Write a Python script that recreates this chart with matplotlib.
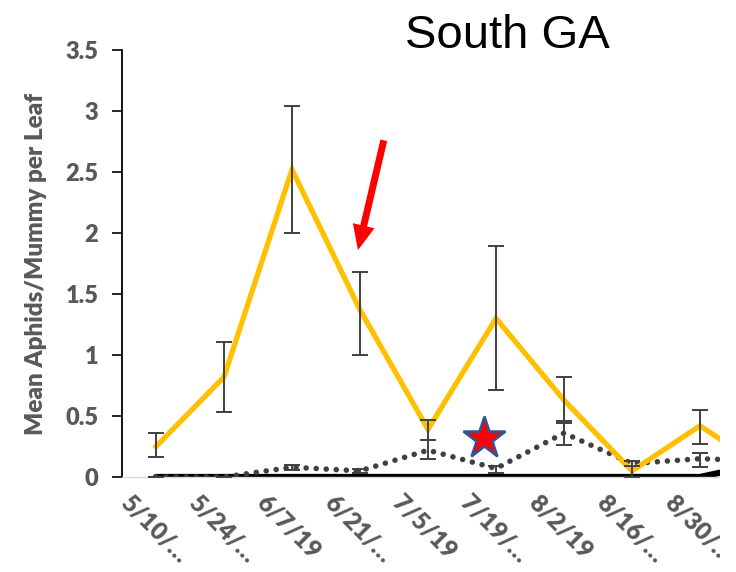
import matplotlib
matplotlib.use("Agg")
import matplotlib.pyplot as plt
import matplotlib.transforms as mtransforms
from matplotlib.patches import Rectangle

# data
fechas = ["5/10/…", "5/24/…", "6/7/19", "6/21/…", "7/5/19",
          "7/19/…", "8/2/19", "8/16/…", "8/30/…", "9/13/…"]

afidos = [0.25, 0.82, 2.52, 1.37, 0.39, 1.30, 0.63, 0.05, 0.42, 0.05]
afidos_bajo = [0.16, 0.53, 2.00, 1.00, 0.30, 0.71, 0.44, 0.00, 0.27, 0.00]
afidos_alto = [0.36, 1.11, 3.04, 1.68, 0.47, 1.89, 0.82, 0.13, 0.55, 0.10]

momias = [0.0, 0.0, 0.08, 0.05, 0.22, 0.07, 0.36, 0.11, 0.15, 0.13]
momias_bajo = [0.0, 0.0, 0.06, 0.03, 0.15, 0.03, 0.26, 0.09, 0.08, 0.10]
momias_alto = [0.0, 0.0, 0.10, 0.065, 0.30, 0.09, 0.46, 0.13, 0.20, 0.16]

otros = [0.0, 0.0, 0.0, 0.0, 0.0, 0.0, 0.0, 0.0, 0.0, 0.12]

estrella = (4.82, 0.32)
flecha_inicio = (3.35, 2.76)
flecha_fin = (2.97, 1.86)

GRIS = "#404040"
TEXTO = "#595959"

fig = plt.figure(figsize=(7.36, 5.72), dpi=100)
ax = fig.add_axes([122 / 736, 95 / 572, 680 / 736, 427 / 572])

x = list(range(len(fechas)))

ax.plot(x, otros, color="black", lw=4.5, solid_capstyle="round", zorder=2)
ax.plot(x, momias, color=GRIS, lw=4.0, linestyle=(0, (0.01, 1.8)),
        dash_capstyle="round", zorder=3)
ax.plot(x, afidos, color="#FFC000", lw=3.8, solid_joinstyle="miter", zorder=4)

err_af = [[m - b for m, b in zip(afidos, afidos_bajo)],
          [a - m for m, a in zip(afidos, afidos_alto)]]
err_mo = [[m - b for m, b in zip(momias, momias_bajo)],
          [a - m for m, a in zip(momias, momias_alto)]]
ax.errorbar(x, afidos, yerr=err_af, fmt="none", ecolor=GRIS, elinewidth=1.4,
            capsize=6, capthick=1.4, zorder=5)
ax.errorbar(x, momias, yerr=err_mo, fmt="none", ecolor=GRIS, elinewidth=1.4,
            capsize=6, capthick=1.4, zorder=5)

ax.plot([estrella[0]], [estrella[1]], marker="*", markersize=32,
        markerfacecolor="red", markeredgecolor="#2F5597", markeredgewidth=1.8,
        zorder=6)

ax.annotate("", xy=flecha_fin, xytext=flecha_inicio,
            arrowprops=dict(facecolor="red", edgecolor="none", width=5,
                            headwidth=16, headlength=18, shrink=0),
            zorder=6)

ax.set_xlim(-0.5, len(fechas) - 0.5)
ax.set_ylim(0, 3.5)
ax.set_yticks([0, 0.5, 1, 1.5, 2, 2.5, 3, 3.5])
ax.set_yticklabels(["0", "0.5", "1", "1.5", "2", "2.5", "3", "3.5"])
ax.set_xticks(x)
ax.set_xticklabels(fechas)

for s in ["top", "right"]:
    ax.spines[s].set_visible(False)
ax.spines["left"].set_linewidth(1.3)
ax.spines["bottom"].set_color("#D9D9D9")
ax.spines["bottom"].set_linewidth(1.0)

ax.tick_params(axis="y", direction="out", length=7, width=1.2, pad=10,
               labelsize=17, labelcolor=TEXTO)
ax.tick_params(axis="x", length=0, pad=10, labelsize=17.5, labelcolor=TEXTO)

for lab in ax.get_yticklabels():
    lab.set_fontfamily("Lato")
    lab.set_fontweight("heavy")

desplazar = mtransforms.ScaledTranslation(-40 / 100, 0, fig.dpi_scale_trans)
for lab in ax.get_xticklabels():
    lab.set_fontfamily("Lato")
    lab.set_fontweight("heavy")
    lab.set_rotation(-45)
    lab.set_ha("left")
    lab.set_va("top")
    lab.set_transform(lab.get_transform() + desplazar)
# the last category lies outside the visible part of the original picture
ax.get_xticklabels()[-1].set_visible(False)

ax.set_ylabel("Mean Aphids/Mummy per Leaf", fontsize=17.5, fontweight="heavy",
              color=TEXTO, family="Lato")
ax.yaxis.set_label_coords(-0.111, 0.5)

fig.text(507 / 736, 1 - 14 / 572, "South GA", ha="center", va="top",
         fontsize=34, family="Liberation Sans", color="black")

# the original image is cut off on the right
fig.add_artist(Rectangle((720 / 736, 0), 16 / 736, 1, transform=fig.transFigure,
                         facecolor="white", edgecolor="none", zorder=20))

fig.savefig("out.png", dpi=100)
